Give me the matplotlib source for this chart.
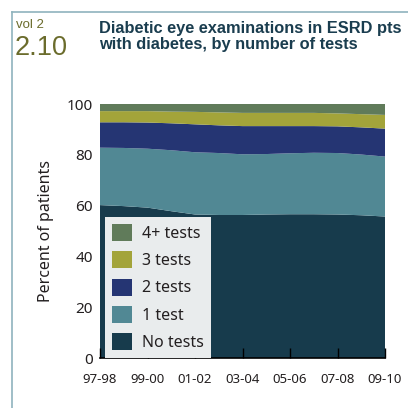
import matplotlib
matplotlib.use("Agg")
import matplotlib.pyplot as plt
from matplotlib.lines import Line2D
from matplotlib.patches import Patch

# Percent of patients by number of eye exams, 1997-98 .. 2009-10
periods = ["97-98", "98-99", "99-00", "00-01", "01-02", "02-03", "03-04",
           "04-05", "05-06", "06-07", "07-08", "08-09", "09-10"]
no_tests = [60.2, 59.8, 59.2, 57.8, 56.5, 56.3, 56.3, 56.5, 56.6, 56.6, 56.5, 56.2, 55.7]
one_test = [22.6, 22.9, 23.2, 24.0, 24.5, 24.4, 23.9, 23.8, 24.0, 24.2, 24.2, 23.9, 23.6]
two_tests = [10.0, 10.1, 10.3, 10.6, 11.0, 10.9, 11.1, 11.0, 10.7, 10.5, 10.5, 10.7, 11.0]
three_tests = [4.4, 4.4, 4.5, 4.6, 4.9, 5.1, 5.2, 5.2, 5.2, 5.2, 5.1, 5.2, 5.4]
four_plus = [2.8, 2.8, 2.8, 3.0, 3.1, 3.3, 3.5, 3.5, 3.5, 3.5, 3.7, 4.0, 4.3]

labels = ["No tests", "1 test", "2 tests", "3 tests", "4+ tests"]
colors = ["#173b4c", "#518894", "#253573", "#a3a43a", "#607b5a"]
yticks = [0, 20, 40, 60, 80, 100]

plt.rcParams["font.family"] = ["Noto Sans", "DejaVu Sans"]
txt = "#231f20"

fig = plt.figure(figsize=(4.08, 4.08), dpi=100)
ax = fig.add_axes([100 / 408, 50 / 408, 285 / 408, 254 / 408])

x = list(range(len(periods)))
ax.stackplot(x, no_tests, one_test, two_tests, three_tests, four_plus,
             colors=colors, linewidth=0)

ax.set_xlim(0, len(periods) - 1)
ax.set_ylim(0, 100)
ax.set_xticks(x[::2])
ax.set_xticklabels(periods[::2], fontsize=9.5, color=txt)
ax.set_yticks(yticks)
ax.set_yticklabels([str(v) for v in yticks], fontsize=11, color=txt)
ax.tick_params(axis="x", direction="in", length=7, width=1, color="black", pad=11)
ax.tick_params(axis="y", length=0, pad=5)
for s in ["top", "right", "left"]:
    ax.spines[s].set_visible(False)
ax.spines["bottom"].set_linewidth(1.2)
ax.set_ylabel("Percent of patients", fontsize=11.5, color=txt, labelpad=9)

handles = [Patch(facecolor=c, edgecolor="none") for c in colors][::-1]
leg = ax.legend(handles, labels[::-1], loc="lower left",
                bbox_to_anchor=(5 / 285, 0), borderaxespad=0,
                fontsize=11.5, frameon=True, fancybox=False,
                handlelength=1.3, handleheight=1.25, handletextpad=0.6,
                labelspacing=0.6, borderpad=0.42)
leg.get_frame().set_facecolor("#e9eced")
leg.get_frame().set_edgecolor("none")
leg.get_frame().set_alpha(1)
for t in leg.get_texts():
    t.set_color(txt)

# frame line around the panel
frame_c = "#8fb3bd"
fig.add_artist(Line2D([12 / 408, 12 / 408], [0, 396 / 408], color=frame_c, lw=1.2))
fig.add_artist(Line2D([12 / 408, 1], [396 / 408, 396 / 408], color=frame_c, lw=1.2))

olive = "#6b6c2c"
fig.text(16 / 408, 1 - 28 / 408, "vol 2", fontsize=9.5, color=olive,
         family=["Liberation Sans"], va="baseline")
fig.text(15 / 408, 1 - 55 / 408, "2.10", fontsize=19.5, color=olive,
         family=["Liberation Sans"], va="baseline")
title_c = "#1a3d4f"
fig.text(99 / 408, 1 - 33 / 408, "Diabetic eye examinations in ESRD pts",
         fontsize=11.8, color=title_c, fontweight="bold",
         family=["Liberation Sans"], va="baseline")
fig.text(99 / 408, 1 - 49 / 408, "with diabetes, by number of tests",
         fontsize=11.8, color=title_c, fontweight="bold",
         family=["Liberation Sans"], va="baseline")

fig.savefig("out.png", dpi=100)
